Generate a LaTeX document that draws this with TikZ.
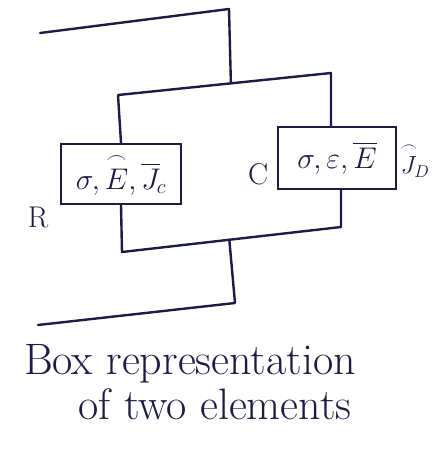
\documentclass[tikz,border=0pt]{standalone}
\usepackage{amsmath,amssymb}
\usepackage{graphicx}
\usepackage{xcolor}
\usepackage{tikz}
\usetikzlibrary{calc,positioning}
\definecolor{ink}{HTML}{1B1B45}
\newcommand{\bxt}[1]{\scalebox{1.2}{#1}}
\tikzset{
  wr/.style={ink,line width=2.4pt,line cap=round,line join=round},
  bx/.style={rectangle,draw=ink,line width=2.4pt,inner sep=0pt,font=\fontsize{24}{28}\selectfont,text=ink},
  lb/.style={text=ink,font=\fontsize{30}{34}\selectfont}
}
\begin{document}
\begin{tikzpicture}[x=1pt,y=-1pt]
\useasboundingbox (0,0) rectangle (433,450);
% elements
\node[bx,minimum width=120pt,minimum height=60pt] (lbox) at (121,174) {\bxt{$\sigma,\overset{\frown}{E},\overline{J}_{\!c}$}};
\node[bx,minimum width=118pt,minimum height=62pt] (rbox) at (337,158) {\bxt{$\sigma,\varepsilon,\overline{E}$}};
\node[lb,left=8pt of lbox.south west,anchor=north east,yshift=2pt] (rl) {R};
\node[lb,left=5pt of rbox.south west,anchor=south east,yshift=2pt] (cl) {C};
\node[bx,draw=none,right=2pt of rbox.east,yshift=-2pt] (jd) {$\overset{\frown}{J}_{\!D}$};
% wiring
\coordinate (tl) at (40,33);
\coordinate (tr) at (229,9);
\coordinate (ml) at (118,95);
\coordinate (mr) at (331,73);
\coordinate (tj) at ($(ml)!0.53!(mr)$);
\coordinate (bl) at (122,252);
\coordinate (br) at (341,227);
\coordinate (bj) at ($(bl)!0.49!(br)$);
\coordinate (bt) at (235,303);
\coordinate (be) at (38,325);
\draw[wr] (tl) -- (tr) -- (tj);
\draw[wr] (lbox.north) -- (ml) -- (mr) -- (mr |- rbox.north);
\draw[wr] (lbox.south) -- (bl) -- (br) -- (br |- rbox.south);
\draw[wr] (bj) -- (bt) -- (be);
% caption
\node[lb,font=\fontsize{44}{50}\selectfont] (cap1) at (190,364) {Box representation};
\node[lb,font=\fontsize{44}{50}\selectfont] (cap2) at (215,404) {of two elements};
\end{tikzpicture}
\end{document}
